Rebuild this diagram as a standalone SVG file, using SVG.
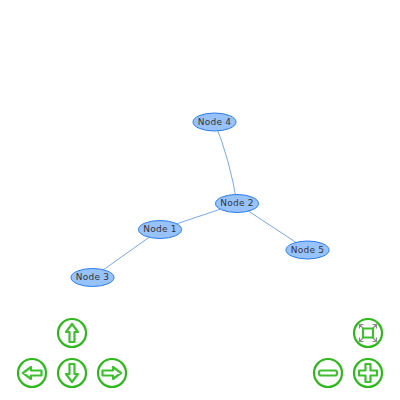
<svg xmlns="http://www.w3.org/2000/svg" width="400" height="400" viewBox="0 0 400 400">
<style>
.edge{fill:none;stroke:#7aa8f0;stroke-width:1}
.node ellipse{fill:#97c2fc;stroke:#2b7ce9;stroke-width:1}
.node text{font-family:"DejaVu Sans",sans-serif;font-size:9px;letter-spacing:.2px;fill:#343434;text-anchor:middle}
.ring{fill:#fff;stroke:#2db81c;stroke-width:2.200}
.glyph{fill:#fff;stroke:#3fbf30;stroke-width:2.200;stroke-linejoin:round;stroke-linecap:round}
.corner{fill:none;stroke:#8a8a8a;stroke-width:1.200}
</style>
<g id="connectors">
<path class="edge" d="M160 229.500L237 203.500"/>
<path class="edge" d="M160 229.500L92.500 277.500"/>
<path class="edge" d="M237 203.500Q230 160 214.500 122"/>
<path class="edge" d="M237 203.500L307.500 250"/>
</g>
<g id="node1" class="node"><ellipse cx="160" cy="229.500" rx="21.500" ry="9"/><text x="160" y="232">Node 1</text></g>
<g id="node2" class="node"><ellipse cx="237" cy="203.500" rx="21.500" ry="9"/><text x="237" y="206">Node 2</text></g>
<g id="node3" class="node"><ellipse cx="92.500" cy="277.500" rx="21.500" ry="9"/><text x="92.500" y="280">Node 3</text></g>
<g id="node4" class="node"><ellipse cx="214.500" cy="122" rx="21.500" ry="9"/><text x="214.500" y="124.500">Node 4</text></g>
<g id="node5" class="node"><ellipse cx="307.500" cy="250" rx="21.500" ry="9"/><text x="307.500" y="252.500">Node 5</text></g>
<g id="btn-up"><circle class="ring" cx="72" cy="333" r="14"/><path class="glyph" d="M72 324L78 332H74.500V342H69.500V332H66Z"/></g>
<g id="btn-left"><circle class="ring" cx="32" cy="373" r="14"/><path class="glyph" d="M23 373L31 367V370.500H41.500V375.500H31V379Z"/></g>
<g id="btn-down"><circle class="ring" cx="72" cy="373" r="14"/><path class="glyph" d="M72 382L66 374H69.500V364H74.500V374H78Z"/></g>
<g id="btn-right"><circle class="ring" cx="112" cy="373" r="14"/><path class="glyph" d="M121 373L113 367V370.500H102.500V375.500H113V379Z"/></g>
<g id="btn-fit"><circle class="ring" cx="368" cy="333" r="14"/><path class="corner" d="M360 325L364 329M359.500 328.500V324.500H363.500M376 325L372 329M372.500 324.500H376.500V328.500M360 341L364 337M359.500 337.500V341.500H363.500M376 341L372 337M372.500 341.500H376.500V337.500"/><rect class="glyph" x="363" y="328.500" width="10" height="9"/></g>
<g id="btn-minus"><circle class="ring" cx="328" cy="373" r="14"/><rect class="glyph" x="319" y="370.500" width="18" height="5" rx="2"/></g>
<g id="btn-plus"><circle class="ring" cx="368" cy="373" r="14"/><path class="glyph" d="M365.500 364H370.500V370.500H377V375.500H370.500V382H365.500V375.500H359V370.500H365.500Z"/></g>
</svg>
